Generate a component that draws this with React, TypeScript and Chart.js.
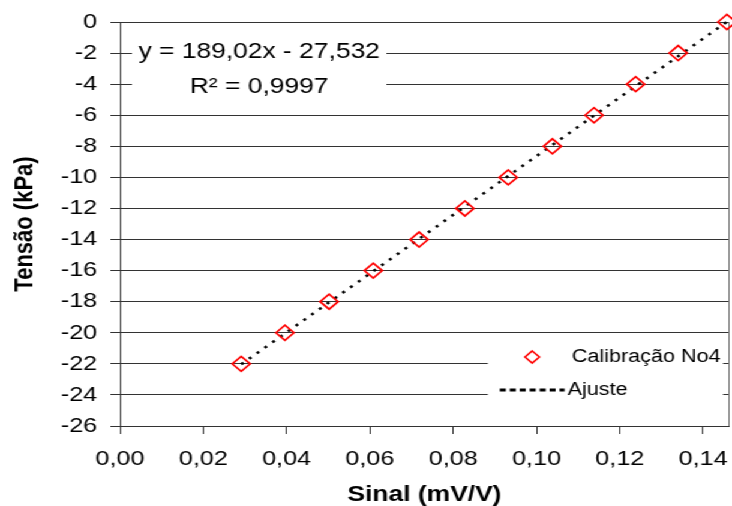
import React, { useEffect, useRef } from "react";
import { Chart, registerables } from "chart.js";

Chart.register(...registerables);

// ---- data ----
const calibX = [0.0291, 0.0396, 0.0502, 0.0608, 0.0718, 0.0828, 0.0932, 0.1038, 0.1138, 0.1238, 0.134, 0.1457];
const calibY = [-22, -20, -18, -16, -14, -12, -10, -8, -6, -4, -2, 0];
const ajusteX = [0.0291, 0.1457];
const ajusteY = [-22.03, 0.01];

const xTitle = "Sinal (mV/V)";
const yTitle = "Tensão (kPa)";
const seriesNames = ["Calibração No4", "Ajuste"];
const equationLines = ["y = 189,02x - 27,532", "R² = 0,9997"];

const xMin = 0;
const xMax = 0.1462;
const xStep = 0.02;
const yMin = -26;
const yMax = 0;
const yStep = 2;

const STRETCH = 1.2;
const CW = 610;
const CH = 506;
const FONT = "'Liberation Sans', Arial, sans-serif";

const overlayPlugin = {
  id: "overlay",
  beforeDatasetsDraw(chart: any) {
    const { ctx, chartArea } = chart;
    const L = chartArea.left;
    const T = chartArea.top;
    const R = chartArea.right;
    ctx.save();
    // right border of the plot area
    ctx.strokeStyle = "#7a7a7a";
    ctx.lineWidth = 1;
    ctx.beginPath();
    ctx.moveTo(R, chartArea.top);
    ctx.lineTo(R, chartArea.bottom);
    ctx.stroke();

    // equation box
    ctx.fillStyle = "#ffffff";
    ctx.fillRect(L + 10, T + 15, 212, 64);
    ctx.fillStyle = "#000000";
    ctx.font = `22px ${FONT}`;
    ctx.textAlign = "center";
    ctx.textBaseline = "middle";
    const cx = L + 116;
    ctx.fillText(equationLines[0], cx, T + 30);
    ctx.fillText(equationLines[1], cx, T + 65);

    // legend box
    const lx = R - 201;
    const ly = chartArea.bottom - 88;
    ctx.fillStyle = "#ffffff";
    ctx.fillRect(lx, ly, 196, 64);
    // diamond marker
    const dx = lx + 37;
    const dy = ly + 19;
    const r = 6;
    ctx.strokeStyle = "#ff0000";
    ctx.lineWidth = 1.6;
    ctx.beginPath();
    ctx.moveTo(dx, dy - r);
    ctx.lineTo(dx + r, dy);
    ctx.lineTo(dx, dy + r);
    ctx.lineTo(dx - r, dy);
    ctx.closePath();
    ctx.stroke();
    ctx.fillStyle = "#000000";
    ctx.font = `18px ${FONT}`;
    ctx.textAlign = "left";
    ctx.fillText(seriesNames[0], lx + 70, dy);
    // dotted line
    const ly2 = ly + 52;
    ctx.strokeStyle = "#000000";
    ctx.lineWidth = 3;
    ctx.setLineDash([5, 3.3]);
    ctx.beginPath();
    ctx.moveTo(lx + 10, ly2);
    ctx.lineTo(lx + 64, ly2);
    ctx.stroke();
    ctx.setLineDash([]);
    ctx.fillText(seriesNames[1], lx + 66.5, ly2);
    ctx.restore();
  },
};

export default function App() {
  const canvasRef = useRef<HTMLCanvasElement | null>(null);

  useEffect(() => {
    const canvas = canvasRef.current;
    if (!canvas) return;
    const chart = new Chart(canvas, {
      type: "scatter",
      data: {
        datasets: [
          {
            label: seriesNames[0],
            data: calibX.map((x, i) => ({ x, y: calibY[i] })),
            showLine: false,
            pointStyle: "rectRot",
            pointRadius: 7.5,
            pointBorderWidth: 1.7,
            borderColor: "#ff0000",
            backgroundColor: "rgba(0,0,0,0)",
            clip: false as any,
          },
          {
            label: seriesNames[1],
            data: ajusteX.map((x, i) => ({ x, y: ajusteY[i] })),
            showLine: true,
            pointRadius: 0,
            borderColor: "#000000",
            borderWidth: 2.5,
            borderDash: [2.5, 6],
            clip: false as any,
          },
        ],
      },
      options: {
        responsive: false,
        animation: false,
        events: [],
        devicePixelRatio: 1,
        layout: { autoPadding: false, padding: { top: 22, right: 2.5, left: 0, bottom: 0 } },
        plugins: {
          legend: { display: false },
          tooltip: { enabled: false },
        },
        scales: {
          x: {
            type: "linear",
            min: xMin,
            max: xMax,
            afterFit(scale: any) {
              scale.height = 80;
              scale.paddingLeft = 0;
              scale.paddingRight = 0;
            },
            ticks: {
              stepSize: xStep,
              includeBounds: false,
              color: "#000",
              font: { family: FONT, size: 21 },
              padding: 13,
              maxRotation: 0,
              autoSkip: false,
              callback: (v: any) => Number(v).toFixed(2).replace(".", ","),
            },
            grid: {
              display: true,
              drawOnChartArea: false,
              drawTicks: true,
              tickLength: 8,
              color: "#333",
            },
            border: { display: true, color: "#333", width: 1 },
            title: {
              display: true,
              text: xTitle,
              color: "#000",
              font: { family: FONT, size: 22, weight: "bold" },
              padding: { top: 0, bottom: -2 },
            },
          },
          y: {
            type: "linear",
            min: yMin,
            max: yMax,
            afterFit(scale: any) {
              scale.width = 100;
              scale.paddingTop = 0;
              scale.paddingBottom = 0;
            },
            ticks: {
              stepSize: yStep,
              includeBounds: false,
              color: "#000",
              font: { family: FONT, size: 21 },
              padding: 11,
              autoSkip: false,
              callback: (v: any) => String(Math.round(Number(v))),
            },
            grid: {
              display: true,
              drawOnChartArea: true,
              drawTicks: true,
              tickLength: 8,
              color: "#333",
              lineWidth: 1,
            },
            border: { display: true, color: "#333", width: 1 },
            title: {
              display: true,
              text: yTitle,
              color: "#000",
              font: { family: FONT, size: 22, weight: "bold" },
              padding: { top: 8, bottom: 0 },
            },
          },
        },
      },
      plugins: [overlayPlugin],
    } as any);
    return () => chart.destroy();
  }, []);

  return (
    <div
      style={{
        position: "absolute",
        left: 0,
        top: 0,
        width: CW,
        height: CH,
        transform: `scaleX(${STRETCH})`,
        transformOrigin: "0 0",
        background: "#fff",
      }}
    >
      <canvas ref={canvasRef} width={CW} height={CH} style={{ display: "block" }} />
    </div>
  );
}
